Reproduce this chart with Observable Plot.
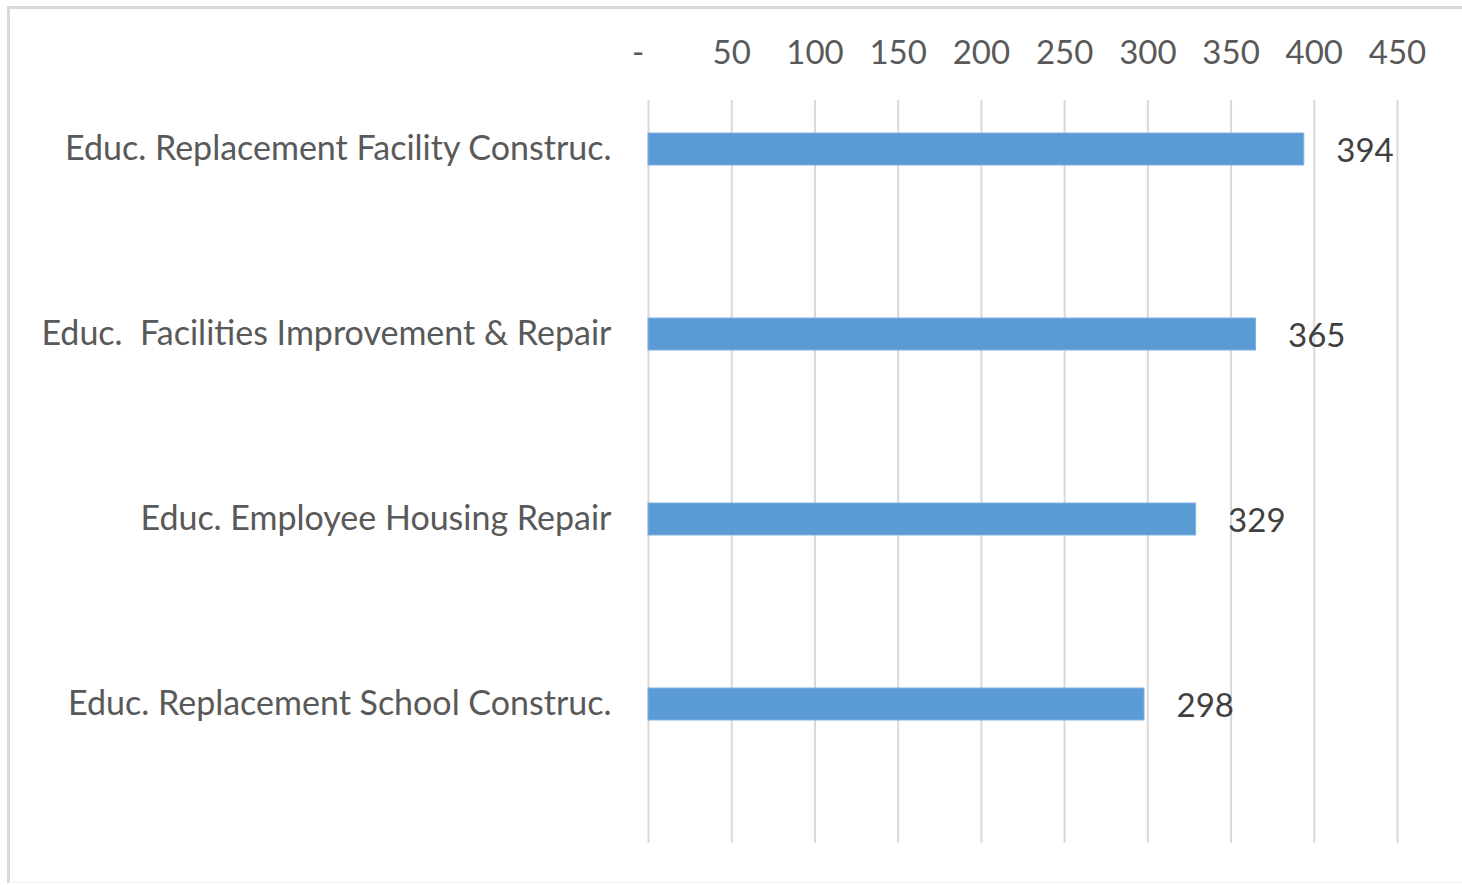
<!DOCTYPE html>
<html>
<head>
<meta charset="utf-8">
<script src="https://cdn.jsdelivr.net/npm/d3@7"></script>
<script src="https://cdn.jsdelivr.net/npm/@observablehq/plot@0.6"></script>
<style>
  html, body { margin: 0; padding: 0; background: #fff; }
  #wrap { position: relative; width: 1462px; height: 885px; overflow: hidden; }
  #frame { position: absolute; left: 7px; top: 6px; width: 1470px; height: 877px;
           border-top: 3px solid #d9d9d9; border-left: 3px solid #d9d9d9; border-bottom: 1px solid #f0f0f0; box-sizing: border-box; }
  #chart { position: absolute; left: 0; top: 0; }
</style>
</head>
<body>
<div id="wrap"><div id="frame"></div><div id="chart"></div></div>
<script>
const categories = [
  "Educ. Replacement Facility Construc.",
  "Educ.  Facilities Improvement & Repair",
  "Educ. Employee Housing Repair",
  "Educ. Replacement School Construc."
];
const values = [394, 365, 329, 298];
const xTicks = [0, 50, 100, 150, 200, 250, 300, 350, 400, 450];

const data = categories.map((c, i) => ({category: c, value: values[i]}));

const font = "Lato, 'Open Sans', sans-serif";

const chart = Plot.plot({
  width: 1462,
  height: 885,
  marginLeft: 648,
  marginRight: 65,
  marginTop: 100,
  marginBottom: 42,
  style: {fontFamily: font, fontSize: "33px", background: "transparent", color: "#595959"},
  x: {domain: [0, 450], axis: null},
  y: {type: "band", domain: categories, range: [55, 797], paddingInner: 0.828, paddingOuter: 0.414, axis: null},
  marks: [
    Plot.gridX(xTicks, {stroke: "#d9d9d9", strokeOpacity: 1, strokeWidth: 2}),
    Plot.axisX(xTicks, {
      anchor: "top", tickSize: 0, tickPadding: 37,
      tickFormat: d => d === 0 ? "-\u2002\u2009" : String(d),
      fill: "#595959", fontSize: 33, label: null
    }),
    Plot.axisY({
      anchor: "left", tickSize: 0, tickPadding: 37,
      fill: "#595959", fontSize: 34, label: null
    }),
    Plot.barX(data, {x: "value", y: "category", fill: "#5b9bd5", stroke: "#7fb2e0", strokeWidth: 1}),
    Plot.text(data, {x: "value", y: "category", text: d => String(d.value), dx: 32, dy: 2,
      textAnchor: "start", fill: "#404040", fontSize: 33})
  ]
});
document.getElementById("chart").appendChild(chart);
</script>
</body>
</html>
